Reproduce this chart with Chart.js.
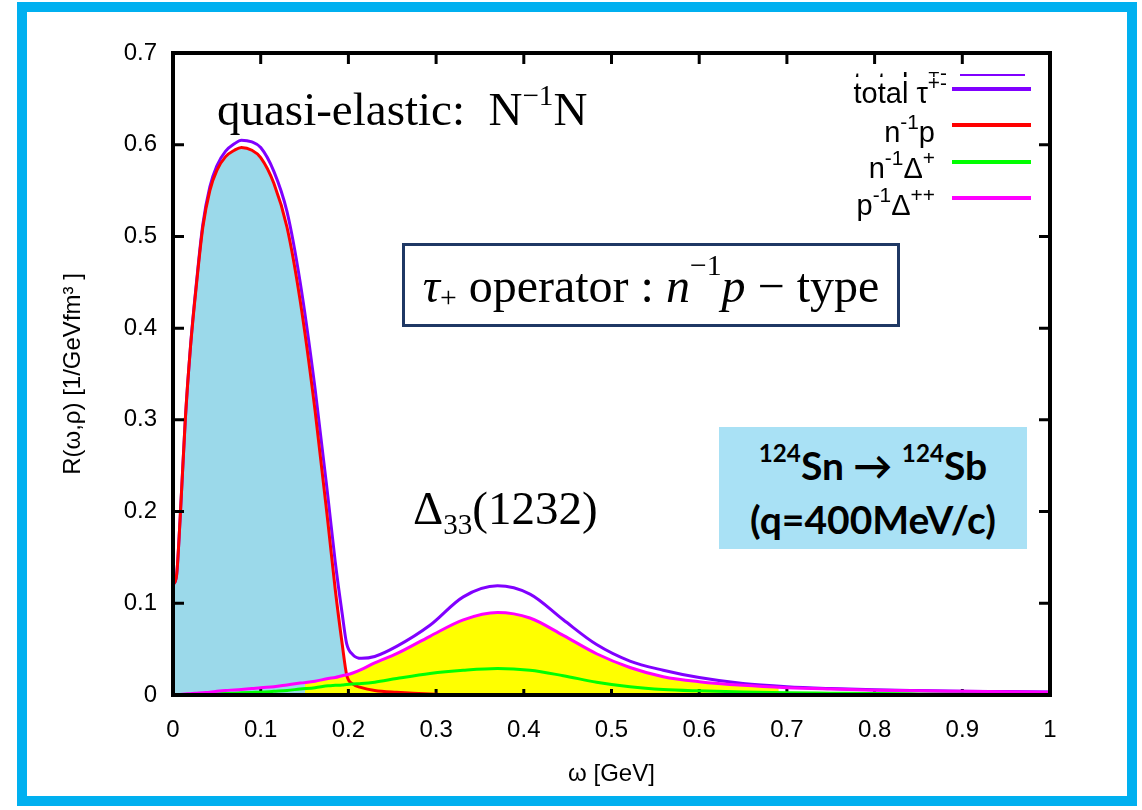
<!DOCTYPE html>
<html>
<head>
<meta charset="utf-8">
<script src="https://cdn.jsdelivr.net/npm/chart.js@4.4.1/dist/chart.umd.min.js"></script>
<style>
  body { margin: 0; background: #fff; overflow: hidden; }
  #wrap { position: relative; width: 1142px; height: 810px; overflow: hidden; background: #fff; }
  #frame { position: absolute; left: 17px; top: 2px; width: 1100px; height: 784px; border: 10px solid #00b0f0; }
  canvas { position: absolute; left: 0; top: 0; }
  .serif { position: absolute; font-family: "Liberation Serif", "Times New Roman", serif; font-size: 47px; line-height: 1; white-space: nowrap; color: #000; }
  .up { position: relative; font-size: 0.62em; top: -0.7em; }
  .dn { position: relative; font-size: 0.62em; top: 0.35em; }
  #opbox { position: absolute; left: 402px; top: 243px; width: 498px; height: 84px; box-sizing: border-box;
           border: 3px solid #1f3864; display: flex; align-items: center; justify-content: center;
           font-family: "Liberation Serif", serif; font-size: 48px; line-height: 1; white-space: nowrap; padding-top: 2px; }
  #nucl { position: absolute; left: 719px; top: 427px; width: 308px; height: 122px; background: #a9e1f5;
          font-family: Lato, "Open Sans", sans-serif; font-weight: 700; font-size: 39px; text-align: center; line-height: 1; color: #000; }
  #nucl .l1 { position: absolute; left: 0; right: 0; top: 19px; }
  #nucl .l2 { position: absolute; left: 0; right: 0; top: 73px; }
  #nucl .s { position: relative; font-size: 0.62em; top: -0.75em; }
  .key { position: absolute; font-family: "Liberation Sans", Arial, sans-serif; font-size: 29px; line-height: 1; white-space: nowrap; text-align: right; color: #000; }
  .key .s { position: relative; font-size: 0.72em; top: -0.6em; }
  .swatch { position: absolute; left: 952px; width: 79px; height: 4px; }
</style>
</head>
<body>
<div id="wrap">
  <div id="frame"></div>
  <canvas id="chart" width="1142" height="810"></canvas>

  <div class="serif" style="left:217px; top:86px;">quasi-elastic:&nbsp; N<span class="up">−1</span>N</div>
  <div id="opbox"><i>τ</i><span class="dn">+</span>&nbsp;operator&nbsp;:&nbsp;<i>n</i><span class="up">−1</span><i>p</i>&nbsp;−&nbsp;type</div>
  <div class="serif" style="left:413px; top:485px;">Δ<span class="dn">33</span>(1232)</div>
  <div id="nucl">
    <div class="l1"><span class="s">124</span>Sn → <span class="s">124</span>Sb</div>
    <div class="l2">(q=400MeV/c)</div>
  </div>

  <!-- key -->
  <div style="position:absolute; left:800px; top:72px; width:147px; height:5px; overflow:hidden;">
    <div class="key" style="right:0; top:-3px;">total τ<span class="s">+-</span></div>
  </div>
  <div class="swatch" style="left:960px; width:65px; height:2px; top:74px; background:#8000ff;"></div>
  <div class="key" style="right:195px; top:79px;">total τ<span class="s">+-</span></div>
  <div class="swatch" style="top:87px; background:#8000ff;"></div>
  <div class="key" style="right:207px; top:118px;">n<span class="s">-1</span>p</div>
  <div class="swatch" style="top:123px; background:#ff0000;"></div>
  <div class="key" style="right:207px; top:154px;">n<span class="s">-1</span>Δ<span class="s">+</span></div>
  <div class="swatch" style="top:160px; background:#00ff00;"></div>
  <div class="key" style="right:207px; top:191px;">p<span class="s">-1</span>Δ<span class="s">++</span></div>
  <div class="swatch" style="top:196px; background:#ff00ff;"></div>
</div>

<script>
// energy transfer grid (GeV)
const omega = [0, 0.004, 0.008, 0.014, 0.02, 0.027, 0.034, 0.042, 0.05, 0.06,
  0.07, 0.078, 0.09, 0.1, 0.115, 0.13, 0.145, 0.162, 0.177, 0.185,
  0.193, 0.198, 0.205, 0.215, 0.23, 0.255, 0.293, 0.331, 0.37, 0.407,
  0.445, 0.483, 0.521, 0.559, 0.6, 0.65, 0.7, 0.75, 0.8, 0.85,
  0.9, 0.95, 1.0];

// response R(omega) in 1/GeV fm^3
const totalTau = [0.12, 0.13, 0.19, 0.30, 0.381, 0.452, 0.513, 0.554, 0.577, 0.593,
  0.601, 0.605, 0.603, 0.597, 0.571, 0.527, 0.45, 0.334, 0.213, 0.145,
  0.088, 0.056, 0.044, 0.040, 0.042, 0.053, 0.076, 0.107, 0.119, 0.11,
  0.082, 0.055, 0.037, 0.027, 0.019, 0.0125, 0.009, 0.007, 0.0056, 0.0048,
  0.0042, 0.0037, 0.0032];

const nInvP = [0.12, 0.13, 0.19, 0.30, 0.38, 0.45, 0.51, 0.55, 0.572, 0.587,
  0.594, 0.597, 0.594, 0.586, 0.558, 0.51, 0.43, 0.31, 0.185, 0.115,
  0.055, 0.022, 0.012, 0.008, 0.005, 0.003, 0.001, 0, 0, 0,
  0, 0, 0, 0, 0, 0, 0, 0, 0, 0,
  0, 0, 0];

const nInvDeltaP = [0, 0.0001, 0.0002, 0.0004, 0.0006, 0.0008, 0.001, 0.0012, 0.0015, 0.0018,
  0.002, 0.0024, 0.0028, 0.003, 0.004, 0.005, 0.0065, 0.008, 0.010, 0.0105,
  0.011, 0.0115, 0.012, 0.0125, 0.014, 0.018, 0.0235, 0.027, 0.029, 0.027,
  0.021, 0.014, 0.009, 0.006, 0.0045, 0.0033, 0.0025, 0.002, 0.0015, 0.0012,
  0.001, 0.001, 0.001];

const pInvDeltaPP = [0, 0.0003, 0.0006, 0.001, 0.0015, 0.002, 0.0025, 0.003, 0.004, 0.005,
  0.0055, 0.006, 0.007, 0.008, 0.009, 0.011, 0.013, 0.015, 0.018, 0.019,
  0.021, 0.022, 0.024, 0.028, 0.035, 0.045, 0.064, 0.082, 0.09, 0.084,
  0.065, 0.045, 0.03, 0.02, 0.0145, 0.0105, 0.008, 0.0065, 0.0053, 0.0045,
  0.004, 0.0035, 0.003];

const pts = ys => omega.map((x, i) => ({ x, y: ys[i] }));

// yellow shading under the delta peak only
const deltaShade = ctx => {
  const c = ctx.chart;
  if (!c.chartArea) return 'rgba(255,255,0,0)';
  const xs = c.scales.x;
  const g = c.ctx.createLinearGradient(xs.getPixelForValue(0), 0, xs.getPixelForValue(1), 0);
  g.addColorStop(0, 'rgba(255,255,0,0)');
  g.addColorStop(0.15, 'rgba(255,255,0,0)');
  g.addColorStop(0.151, '#ffff00');
  g.addColorStop(0.69, '#ffff00');
  g.addColorStop(0.691, 'rgba(255,255,0,0)');
  g.addColorStop(1, 'rgba(255,255,0,0)');
  return g;
};

// gnuplot-like frame with inward ticks
const frame = {
  id: 'frame',
  beforeDatasetsDraw(chart) {
    const { ctx, chartArea: a, scales: { x } } = chart;
    ctx.save();
    ctx.strokeStyle = '#000';
    ctx.lineWidth = 3;
    x.ticks.forEach(t => {
      const px = x.getPixelForValue(t.value);
      ctx.beginPath(); ctx.moveTo(px, a.bottom); ctx.lineTo(px, a.bottom - 6); ctx.stroke();
    });
    ctx.restore();
  },
  afterDatasetsDraw(chart) {
    const { ctx, chartArea: a, scales: { x, y } } = chart;
    ctx.save();
    ctx.strokeStyle = '#000';
    ctx.lineWidth = 3;
    y.ticks.forEach(t => {
      const py = y.getPixelForValue(t.value);
      ctx.beginPath();
      ctx.moveTo(a.left, py); ctx.lineTo(a.left + 11, py);
      ctx.moveTo(a.right, py); ctx.lineTo(a.right - 11, py);
      ctx.stroke();
    });
    x.ticks.forEach(t => {
      const px = x.getPixelForValue(t.value);
      ctx.beginPath(); ctx.moveTo(px, a.top); ctx.lineTo(px, a.top + 11); ctx.stroke();
    });
    ctx.lineWidth = 4;
    ctx.strokeRect(a.left, a.top, a.right - a.left, a.bottom - a.top);
    ctx.restore();
  }
};

const fmt = v => String(Math.round(v * 10) / 10);
const axisFont = { family: '"Liberation Sans", Arial, sans-serif', size: 24 };

new Chart(document.getElementById('chart'), {
  type: 'line',
  data: {
    datasets: [
      { label: 'p-1Δ++', data: pts(pInvDeltaPP), borderColor: '#ff00ff', fill: 'origin', backgroundColor: deltaShade, order: 0 },
      { label: 'n-1Δ+', data: pts(nInvDeltaP), borderColor: '#00ff00', fill: false, order: 1 },
      { label: 'n-1p', data: pts(nInvP), borderColor: '#ff0000', fill: 'origin', backgroundColor: '#9bd9ea', order: 2 },
      { label: 'total τ+-', data: pts(totalTau), borderColor: '#8000ff', fill: false, order: 3 }
    ]
  },
  options: {
    responsive: false,
    animation: false,
    layout: { padding: { left: 0, right: 92, top: 53, bottom: 0 } },
    elements: {
      point: { radius: 0 },
      line: { borderWidth: 3, cubicInterpolationMode: 'monotone' }
    },
    plugins: {
      legend: { display: false },
      tooltip: { enabled: false },
      filler: { drawTime: 'beforeDatasetsDraw' }
    },
    scales: {
      x: {
        type: 'linear', min: 0, max: 1,
        grid: { display: false, drawTicks: false },
        border: { display: false },
        ticks: { stepSize: 0.1, padding: 21, color: '#000', font: axisFont, callback: fmt, maxRotation: 0 },
        title: { display: true, text: 'ω [GeV]', color: '#000', font: axisFont, padding: { top: 0, bottom: 21 } },
        afterFit(s) { s.height = 115; }
      },
      y: {
        min: 0, max: 0.7,
        grid: { display: false, drawTicks: false },
        border: { display: false },
        ticks: { stepSize: 0.1, padding: 16, color: '#000', font: axisFont, callback: fmt },
        title: { display: true, text: 'R(ω,ρ) [1/GeVfm³ ]', color: '#000', font: axisFont, padding: { top: 59, bottom: 0 } },
        afterFit(s) { s.width = 173; }
      }
    }
  },
  plugins: [frame]
});
</script>
</body>
</html>
